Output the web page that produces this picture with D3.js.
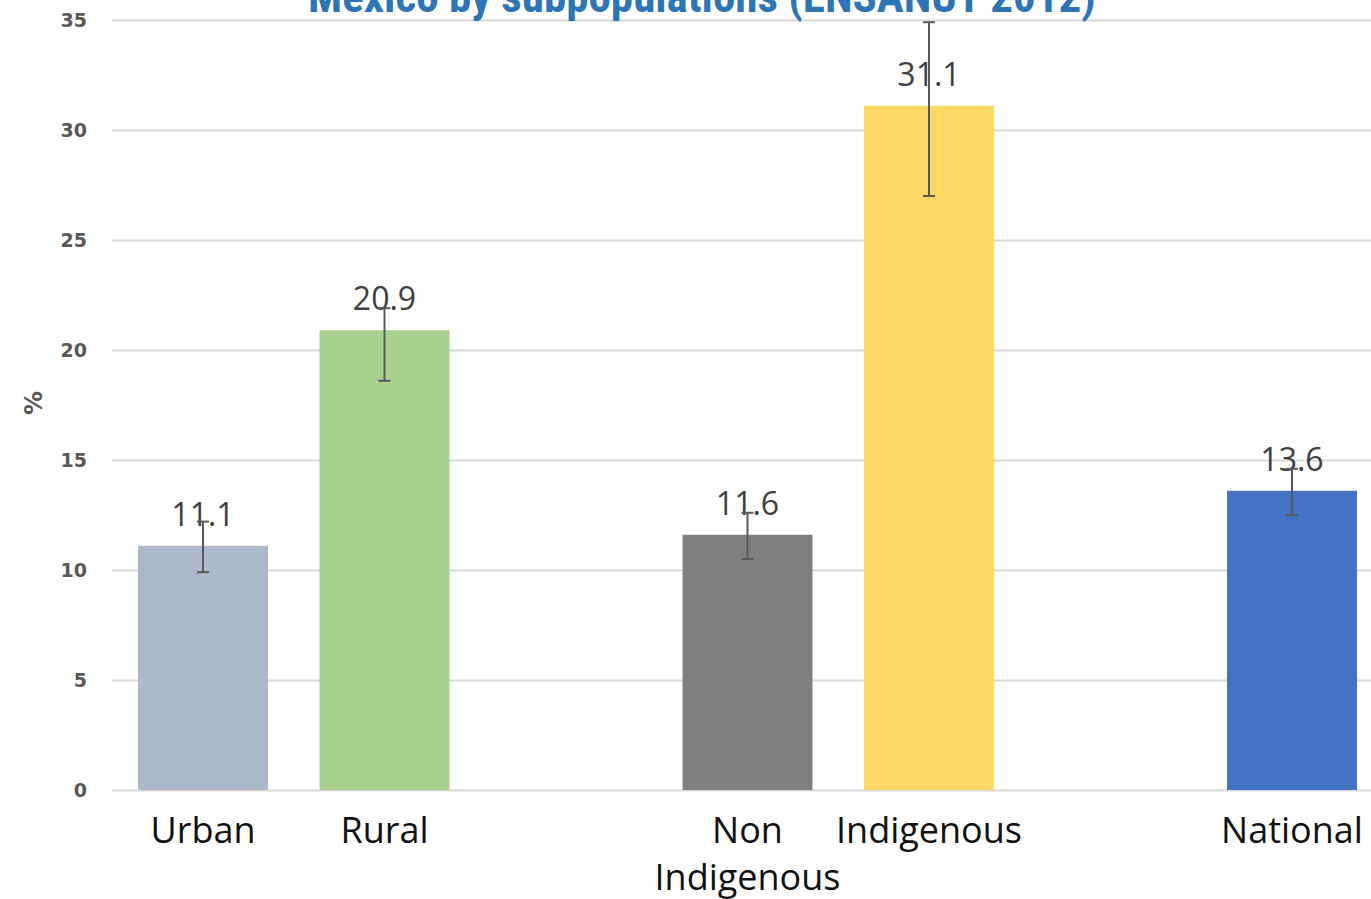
<!DOCTYPE html>
<html>
<head>
<meta charset="utf-8">
<script src="https://cdn.jsdelivr.net/npm/d3@7"></script>
<style>
  html, body { margin: 0; padding: 0; background: #ffffff; }
  svg { display: block; }
</style>
</head>
<body>
<svg id="chart" width="1371" height="899"></svg>
<script>
// ---- data ----
const slots = ["Urban", "Rural", "gap1", "Non Indigenous", "Indigenous", "gap2", "National"];
const categories = ["Urban", "Rural", "Non Indigenous", "Indigenous", "National"];
const values = [11.1, 20.9, 11.6, 31.1, 13.6];
const errLow = [9.9, 18.6, 10.5, 27.0, 12.5];
const errHigh = [12.2, 21.9, 12.6, 34.9, 14.6];
const colors = ["#ADB9CA", "#A9D18E", "#7F7F7F", "#FFD966", "#4472C4"];
const labelLines = [["Urban"], ["Rural"], ["Non", "Indigenous"], ["Indigenous"], ["National"]];
const yTicks = [0, 5, 10, 15, 20, 25, 30, 35];
const title = "Mexico by subpopulations (ENSANUT 2012)";
const yTitle = "%";

// ---- layout ----
const svg = d3.select("#chart");
const plotLeft = 112.25, plotRight = 1382.75, plotTop = 20, plotBottom = 790;

const x = d3.scaleBand().domain(slots).range([plotLeft, plotRight])
  .paddingInner(0.284).paddingOuter(0.142);
const y = d3.scaleLinear().domain([0, 35]).range([plotBottom, plotTop]);

const narrow = "'Liberation Sans Narrow', 'Arial Narrow', 'Roboto Condensed', sans-serif";

// gridlines
svg.append("g")
  .attr("transform", `translate(${plotLeft},0)`)
  .call(d3.axisLeft(y).tickValues(yTicks).tickSize(-(plotRight - plotLeft)).tickFormat(""))
  .call(g => g.select(".domain").remove())
  .call(g => g.selectAll("line").attr("stroke", "#D9D9D9").attr("stroke-width", 2));

// y tick labels
svg.append("g")
  .attr("transform", `translate(87,0)`)
  .call(d3.axisLeft(y).tickValues(yTicks).tickSize(0).tickPadding(0))
  .call(g => g.select(".domain").remove())
  .call(g => g.selectAll("text")
    .attr("font-family", "'DejaVu Sans', Verdana, sans-serif")
    .attr("font-weight", "bold")
    .attr("font-size", 19)
    .attr("fill", "#595959")
    .attr("text-anchor", "end"));

// y title
svg.append("text")
  .attr("transform", "translate(42,403) rotate(-90)")
  .attr("text-anchor", "middle")
  .attr("font-family", "'DejaVu Sans', Verdana, sans-serif")
  .attr("font-weight", "bold")
  .attr("font-size", 24)
  .attr("fill", "#595959")
  .text(yTitle);

// bars
const data = categories.map((c, i) => ({ c, v: values[i], lo: errLow[i], hi: errHigh[i], color: colors[i], lines: labelLines[i] }));

svg.append("g").selectAll("rect").data(data).join("rect")
  .attr("x", d => x(d.c))
  .attr("width", x.bandwidth())
  .attr("y", d => y(d.v))
  .attr("height", d => y(0) - y(d.v))
  .attr("fill", d => d.color);

// value labels
svg.append("g").selectAll("text").data(data).join("text")
  .attr("x", d => x(d.c) + x.bandwidth() / 2)
  .attr("y", d => y(d.v) - 20)
  .attr("text-anchor", "middle")
  .attr("font-family", "'Open Sans', sans-serif")
  .attr("font-size", 32)
  .attr("fill", "#404040")
  .text(d => d.v.toFixed(1));

// error bars
const eb = svg.append("g").attr("stroke", "#595959").attr("stroke-width", 2);
data.forEach(d => {
  const cx = x(d.c) + x.bandwidth() / 2;
  eb.append("line").attr("x1", cx).attr("x2", cx).attr("y1", y(d.lo)).attr("y2", y(d.hi));
  eb.append("line").attr("x1", cx - 6).attr("x2", cx + 6).attr("y1", y(d.lo)).attr("y2", y(d.lo));
  eb.append("line").attr("x1", cx - 6).attr("x2", cx + 6).attr("y1", y(d.hi)).attr("y2", y(d.hi));
});

// category labels
const cl = svg.append("g");
data.forEach(d => {
  const t = cl.append("text")
    .attr("x", x(d.c) + x.bandwidth() / 2)
    .attr("y", 843)
    .attr("text-anchor", "middle")
    .attr("font-family", "'Open Sans', sans-serif")
    .attr("font-size", 36)
    .attr("fill", "#111111");
  d.lines.forEach((ln, i) => {
    t.append("tspan").attr("x", x(d.c) + x.bandwidth() / 2).attr("dy", i === 0 ? 0 : 47).text(ln);
  });
});

// title
svg.append("text")
  .attr("x", 702)
  .attr("y", 12)
  .attr("text-anchor", "middle")
  .attr("font-family", narrow)
  .attr("font-weight", "bold")
  .attr("font-size", 45)
  .attr("fill", "#2E75B6")
  .text(title);
</script>
</body>
</html>
